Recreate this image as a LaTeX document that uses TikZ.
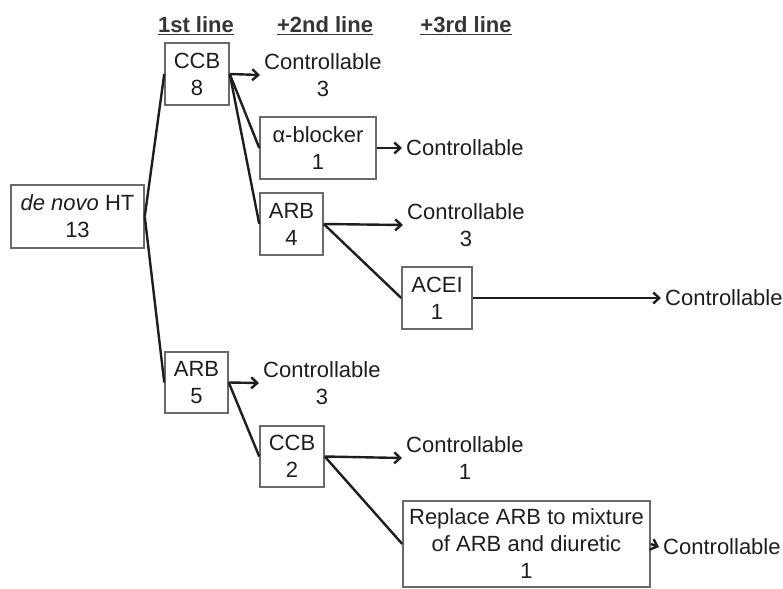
\documentclass[tikz,border=0pt]{standalone}
\usepackage{fontspec}
\setmainfont{Liberation Sans}
\usetikzlibrary{arrows.meta}
\definecolor{ink}{HTML}{1E1E1E}
\definecolor{boxline}{HTML}{6A6A6A}
\begin{document}
\begin{tikzpicture}[x=1pt,y=-1pt,
  every node/.style={font=\fontsize{22}{27}\selectfont, text=ink, align=center},
  tbox/.style={draw=boxline, line width=1.5pt, inner sep=0pt},
  lbl/.style={anchor=west, inner xsep=4pt, inner ysep=0pt},
  hdr/.style={font=\fontsize{22}{27}\selectfont\bfseries, text=ink!90},
  conn/.style={draw=ink, line width=2.4pt},
  arr/.style={conn, -{Straight Barb[length=6pt,width=11pt]}}
]
\useasboundingbox (0,0) rectangle (783,588);
% headers
\node[hdr] (h1) at (196,26) {\underline{1st line}};
\node[hdr] (h2) at (325,26) {\underline{+2nd line}};
\node[hdr] (h3) at (466,26) {\underline{+3rd line}};
% boxes
\node[tbox, minimum width=133pt, minimum height=63pt] (denovo) at (77.5,216.5) {\textit{de novo} HT\\13};
\node[tbox, minimum width=64pt, minimum height=62pt] (ccbA) at (197,74) {CCB\\8};
\node[tbox, minimum width=116pt, minimum height=62pt] (alpha) at (318,148) {α-blocker\\1};
\node[tbox, minimum width=63pt, minimum height=62pt] (arbB) at (291.5,224) {ARB\\4};
\node[tbox, minimum width=70pt, minimum height=62pt] (acei) at (437,298) {ACEI\\1};
\node[tbox, minimum width=63pt, minimum height=61pt] (arbA) at (196.5,382.5) {ARB\\5};
\node[tbox, minimum width=64pt, minimum height=61pt] (ccbB) at (292,456.5) {CCB\\2};
\node[tbox, minimum width=247pt, minimum height=86pt] (rep) at (526.5,544) {Replace ARB to mixture\\of ARB and diuretic\\1};
% outcome labels
\node[lbl] (c1) at (260,75) {Controllable\\3};
\node[lbl] (c2) at (402,148) {Controllable};
\node[lbl] (c3) at (403,225) {Controllable\\3};
\node[lbl] (c4) at (661,298) {Controllable};
\node[lbl] (c5) at (259,383) {Controllable\\3};
\node[lbl] (c6) at (402,458) {Controllable\\1};
\node[lbl] (c7) at (659,547) {Controllable};
% connectors
\draw[conn] (denovo.east) -- (ccbA.west);
\draw[conn] (denovo.east) -- (arbA.west);
\draw[arr] (ccbA.east) -- (c1.west);
\draw[conn] (ccbA.east) -- (alpha.west);
\draw[conn] (ccbA.east) -- (arbB.west);
\draw[arr] (alpha.east) -- (c2.west);
\draw[arr] (arbB.east) -- (c3.west);
\draw[conn] (arbB.east) -- (acei.west);
\draw[arr] (acei.east) -- (c4.west);
\draw[arr] (arbA.east) -- (c5.west);
\draw[conn] (arbA.east) -- (ccbB.west);
\draw[arr] (ccbB.east) -- (c6.west);
\draw[conn] (ccbB.east) -- (rep.west);
\draw[arr] (rep.east) -- (c7.west);
\end{tikzpicture}
\end{document}
